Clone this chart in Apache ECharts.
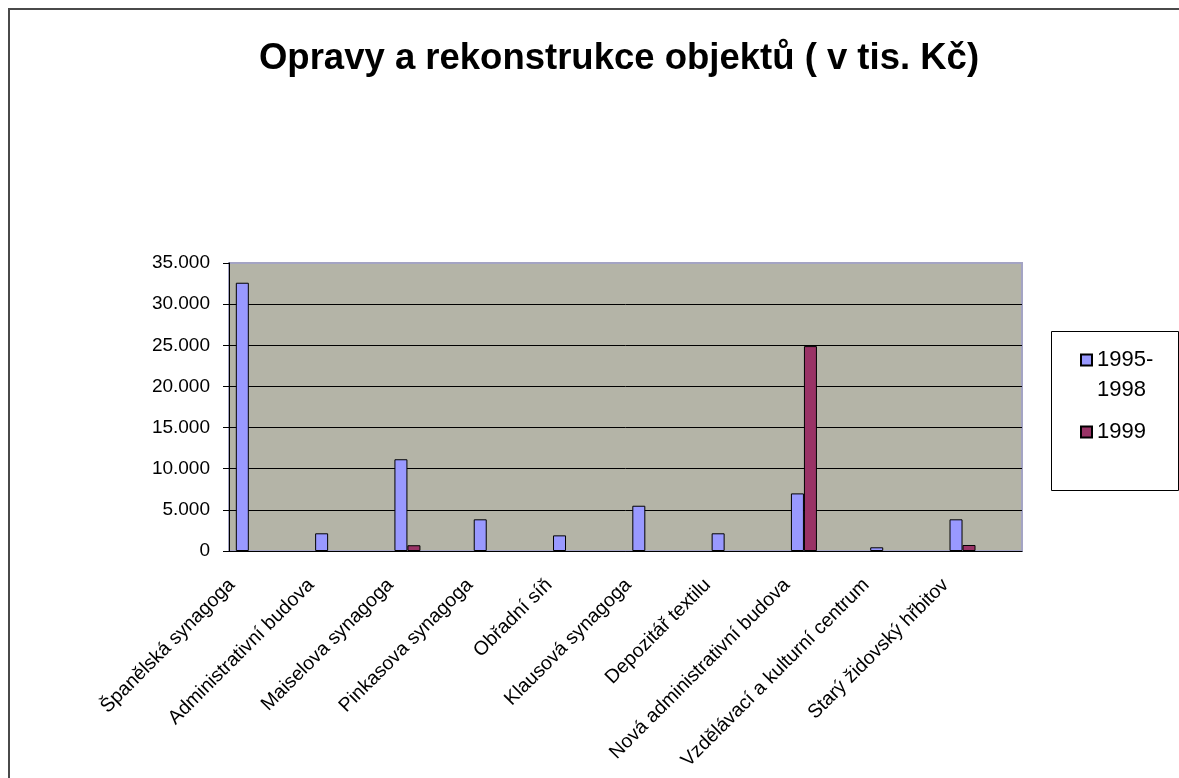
<!DOCTYPE html>
<html>
<head>
<meta charset="utf-8">
<title>Opravy a rekonstrukce objektů</title>
<script src="https://cdn.jsdelivr.net/npm/echarts@6/dist/echarts.min.js"></script>
<style>
    html, body { margin: 0; padding: 0; background: #fff; }
    #chart { width: 1179px; height: 778px; }
</style>
</head>
<body>
<div id="chart"></div>
<script>
// Objekty (kategorie osy x)
const objekty = [
    'Španělská synagoga',
    'Administrativní budova',
    'Maiselova synagoga',
    'Pinkasova synagoga',
    'Obřadní síň',
    'Klausová synagoga',
    'Depozitář textilu',
    'Nová administrativní budova',
    'Vzdělávací a kulturní centrum',
    'Starý židovský hřbitov'
];

// Náklady v tis. Kč
const obdobi1995_1998 = [32600, 2150, 11150, 3850, 1900, 5500, 2150, 7000, 450, 3850];
const rok1999 = [null, null, 700, null, null, null, null, 24900, null, 730];

const seriesNames = ['1995-1998', '1999'];
const yTicks = { min: 0, max: 35000, interval: 5000 };

const FONT = "'Liberation Sans', Arial, sans-serif";

// Excel graf má mezi objekty prázdné kategorie - proložíme je
function interleave(arr, filler) {
    const out = [];
    arr.forEach(v => { out.push(v); out.push(filler); });
    return out;
}

function formatThousands(v) {
    return String(v).replace(/\B(?=(\d{3})+(?!\d))/g, '.');
}

const chart = echarts.init(document.getElementById('chart'), null, { renderer: 'canvas' });

const option = {
    backgroundColor: '#ffffff',
    animation: false,
    title: {
        text: 'Opravy a rekonstrukce objektů ( v tis. Kč)',
        left: 614,
        top: 35,
        textAlign: 'center',
        textStyle: {
            fontFamily: FONT,
            fontSize: 36.5,
            fontWeight: 'bold',
            color: '#000'
        }
    },
    graphic: [
        {
            type: 'rect',
            shape: { x: 9, y: 9, width: 1200, height: 800 },
            style: { fill: 'none', stroke: '#4a4a4a', lineWidth: 2 },
            silent: true
        },
        {
            type: 'rect',
            shape: { x: 1051.5, y: 331.5, width: 127, height: 159 },
            style: { fill: '#fff', stroke: '#000', lineWidth: 1 },
            silent: true,
            z: -1
        }
    ],
    legend: {
        orient: 'vertical',
        left: 1080,
        top: 315,
        padding: 0,
        itemWidth: 11,
        itemHeight: 11,
        itemGap: 12,
        icon: 'rect',
        selectedMode: false,
        // první řádek textu zarovnat s ikonou jako v Excelu
        formatter: name => name === '1995-1998' ? '\n1995-\n1998' : name,
        textStyle: {
            fontFamily: FONT,
            fontSize: 22,
            lineHeight: 30,
            color: '#000'
        }
    },
    grid: {
        left: 229,
        right: 157,
        top: 263,
        bottom: 227,
        show: true,
        backgroundColor: '#b4b4a7',
        borderColor: '#a4a4c4',
        borderWidth: 2
    },
    xAxis: {
        type: 'category',
        data: interleave(objekty, ''),
        boundaryGap: true,
        axisLine: { lineStyle: { color: '#000', width: 1 } },
        axisTick: { interval: 0, length: 6, lineStyle: { color: '#000' } },
        axisLabel: {
            interval: 0,
            rotate: 45,
            margin: 14,
            padding: [0, 24, 0, 0],
            fontFamily: FONT,
            fontSize: 19.5,
            color: '#000'
        },
        splitLine: { show: false }
    },
    yAxis: {
        type: 'value',
        min: yTicks.min,
        max: yTicks.max,
        interval: yTicks.interval,
        axisLine: { show: true, lineStyle: { color: '#000', width: 1 } },
        axisTick: { show: true, length: 6, lineStyle: { color: '#000' } },
        axisLabel: {
            margin: 19,
            fontFamily: FONT,
            fontSize: 19,
            color: '#000',
            formatter: formatThousands
        },
        splitLine: { showMaxLine: false, lineStyle: { color: '#000', width: 1 } }
    },
    series: [
        {
            name: seriesNames[0],
            type: 'bar',
            data: interleave(obdobi1995_1998, null),
            barWidth: 13,
            barGap: '0%',
            itemStyle: { color: '#9999ff', borderColor: '#000', borderWidth: 1 }
        },
        {
            name: seriesNames[1],
            type: 'bar',
            data: interleave(rok1999, null),
            barWidth: 13,
            itemStyle: { color: '#993366', borderColor: '#000', borderWidth: 1 }
        }
    ]
};

chart.setOption(option);
</script>
</body>
</html>
